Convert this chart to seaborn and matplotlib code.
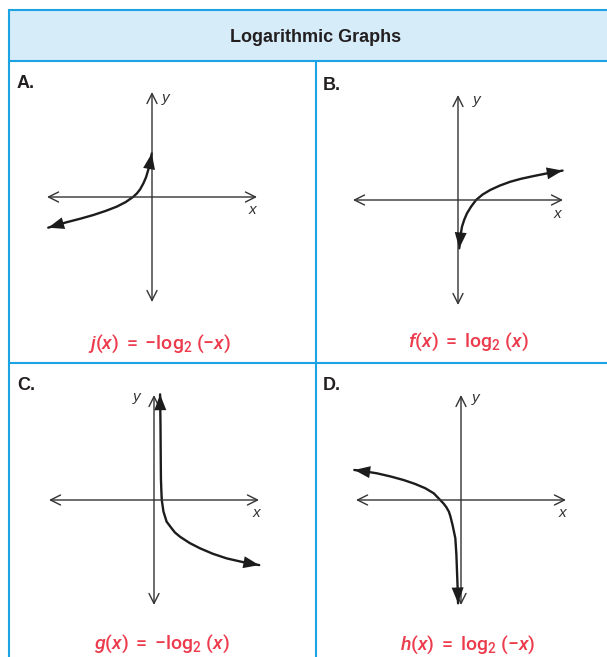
import pandas as pd
import seaborn as sns
import matplotlib.pyplot as plt
from matplotlib.patches import Rectangle

W, H = 607, 657

title = "Logarithmic Graphs"
letters = ["A.", "B.", "C.", "D."]
formulas = [r"$j(x)\;=\;{-}\mathrm{log}_{2}\;({-}x)$",
            r"$f(x)\;=\;\mathrm{log}_{2}\;(x)$",
            r"$g(x)\;=\;{-}\mathrm{log}_{2}\;(x)$",
            r"$h(x)\;=\;\mathrm{log}_{2}\;({-}x)$"]

# curve points, in graph units (axes run -5..5)
curve_a_x = [-0.01, -0.05, -0.10, -0.18, -0.28, -0.41, -0.57, -0.72, -0.89,
             -1.25, -1.68, -2.20, -2.80, -3.40, -4.06, -4.94]
curve_a_y = [2.08, 1.85, 1.60, 1.29, 0.95, 0.65, 0.36, 0.17, 0.01,
             -0.24, -0.46, -0.66, -0.86, -1.03, -1.20, -1.46]
curve_b_x = [0.06, 0.11, 0.19, 0.30, 0.43, 0.62, 0.86, 1.17, 1.54, 2.00,
             2.49, 3.00, 3.60, 4.30, 4.98]
curve_b_y = [-2.30, -1.75, -1.27, -0.93, -0.63, -0.32, 0.0, 0.26, 0.48, 0.69,
             0.87, 1.01, 1.14, 1.28, 1.40]
curve_c_x = [0.29, 0.31, 0.32, 0.33, 0.35, 0.37, 0.45, 0.60, 0.84, 1.00,
             1.24, 1.70, 2.19, 2.80, 3.46, 4.20, 5.01]
curve_c_y = [5.03, 3.50, 2.14, 1.00, 0.45, 0.0, -0.55, -1.03, -1.35, -1.55,
             -1.75, -2.05, -2.30, -2.56, -2.78, -2.95, -3.10]
curve_d_x = [-5.08, -4.50, -4.00, -3.35, -2.73, -2.20, -1.70, -1.30, -0.99,
             -0.82, -0.70, -0.58, -0.51, -0.40, -0.27, -0.22, -0.19, -0.16, -0.14]
curve_d_y = [1.43, 1.35, 1.27, 1.12, 0.95, 0.77, 0.56, 0.32, 0.0,
             -0.18, -0.34, -0.55, -0.76, -1.20, -1.82, -2.60, -3.41, -4.20, -4.92]
curves = [(curve_a_x, curve_a_y), (curve_b_x, curve_b_y),
          (curve_c_x, curve_c_y), (curve_d_x, curve_d_y)]

# where the "x" and "y" axis letters sit, graph units
x_label_pos = [(4.76, -0.62), (4.73, -0.67), (4.86, -0.62), (4.82, -0.62)]
y_label_pos = [(0.48, 4.71), (0.73, 4.76), (-0.62, 4.90), (0.54, 4.86)]
y_label_ha = ["left", "left", "right", "left"]
axis_ext = 5.0

# layout in pixels
origins = [(152, 197), (458, 200), (154, 500), (461, 500)]
letter_pos = [(17, 83), (323, 85), (17, 385), (323, 385)]
formula_pos = [(160, 344), (468, 342), (162, 644), (468, 645)]
px_per_unit = 21.0
half = 5.6

blue = "#1ba3e3"
header_fill = "#d6ecf9"
red = "#ec3b4c"
ink = "#1c1c1c"
axis_col = "#333333"

sns.set_theme(style="white")
plt.rcParams["font.family"] = ["Liberation Sans", "DejaVu Sans"]
plt.rcParams["mathtext.fontset"] = "custom"
plt.rcParams["mathtext.rm"] = "Roboto:medium"
plt.rcParams["mathtext.it"] = "Roboto:italic:medium"
plt.rcParams["mathtext.bf"] = "Roboto:bold"

fig = plt.figure(figsize=(W / 100, H / 100), dpi=100)
fig.patch.set_facecolor("white")

# table frame drawn in pixel space
bg = fig.add_axes([0, 0, 1, 1])
bg.set_xlim(0, W)
bg.set_ylim(H, 0)
bg.axis("off")
bg.add_patch(Rectangle((9, 10), W, 51, facecolor=header_fill, edgecolor="none"))
lw_t = 1.5
bg.plot([9, W], [10, 10], color=blue, lw=lw_t)
bg.plot([9, W], [61, 61], color=blue, lw=lw_t)
bg.plot([9, W], [363, 363], color=blue, lw=lw_t)
bg.plot([9, 9], [10, H], color=blue, lw=lw_t)
bg.plot([316, 316], [61, H], color=blue, lw=lw_t)
bg.text(316, 37, title, ha="center", va="center", fontsize=13,
        fontweight="bold", color="#231f20")

for i in range(4):
    bg.text(letter_pos[i][0], letter_pos[i][1], letters[i], ha="left", va="center",
            fontsize=13, fontweight="bold", color="#231f20")
    bg.text(formula_pos[i][0], formula_pos[i][1], formulas[i], ha="center",
            va="center", fontsize=14, color=red)

    ox, oy = origins[i]
    size = 2 * half * px_per_unit
    ax = fig.add_axes([(ox - size / 2) / W, (H - oy - size / 2) / H, size / W, size / H])
    ax.set_facecolor("none")

    # coordinate axes with open arrowheads
    axis_style = dict(arrowstyle="<->,head_length=0.6,head_width=0.3", lw=1.0,
                      color=axis_col, shrinkA=0, shrinkB=0)
    ax.annotate("", xy=(axis_ext, 0), xytext=(-axis_ext, 0), arrowprops=axis_style)
    ax.annotate("", xy=(0, axis_ext), xytext=(0, -axis_ext), arrowprops=axis_style)
    ax.text(x_label_pos[i][0], x_label_pos[i][1], "x", fontstyle="italic",
            fontsize=11, ha="center", va="center", color=axis_col)
    ax.text(y_label_pos[i][0], y_label_pos[i][1], "y", fontstyle="italic",
            fontsize=11, ha=y_label_ha[i], va="center", color=axis_col)

    cx, cy = curves[i]
    df = pd.DataFrame({"x": cx, "y": cy})
    sns.lineplot(data=df, x="x", y="y", sort=False, ax=ax, color=ink, lw=1.7)
    ax.lines[-1].set_solid_joinstyle("round")
    head = dict(arrowstyle="-|>,head_length=0.95,head_width=0.36", lw=0,
                color=ink, shrinkA=0, shrinkB=0)
    ax.annotate("", xy=(cx[-1], cy[-1]), xytext=(cx[-2], cy[-2]), arrowprops=head)
    ax.annotate("", xy=(cx[0], cy[0]), xytext=(cx[1], cy[1]), arrowprops=head)

    ax.set_xlim(-half, half)
    ax.set_ylim(-half, half)
    ax.axis("off")

fig.savefig("out.png", dpi=100, facecolor="white")
